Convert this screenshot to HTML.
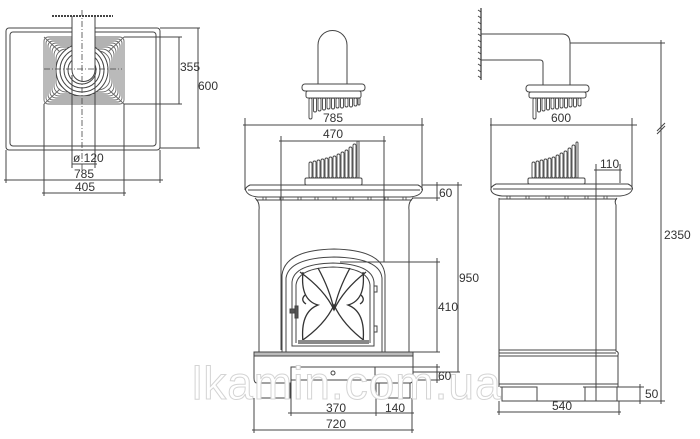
<!DOCTYPE html>
<html><head><meta charset="utf-8"><style>
html,body{margin:0;padding:0;background:#fff;width:700px;height:439px;overflow:hidden}
svg{display:block}
text{font-family:"Liberation Sans Narrow","Liberation Sans",sans-serif;font-size:12px;fill:#333}
</style></head><body>
<svg width="700" height="439" viewBox="0 0 700 439" xmlns="http://www.w3.org/2000/svg">
<g fill="none" stroke="#444" stroke-width="1">
<!-- TOP VIEW -->
<rect x="6" y="28" width="154" height="122" rx="3"/>
<rect x="10" y="32" width="146" height="114" rx="3"/>
<g stroke="#666" stroke-width="0.9">
<rect x="44" y="37" width="80" height="67" rx="4"/>
<rect x="46" y="39" width="76" height="63" rx="4"/>
<rect x="48" y="41" width="72" height="59" rx="5"/>
<rect x="50" y="43" width="68" height="55" rx="6"/>
<rect x="52" y="45" width="64" height="51" rx="7"/>
<rect x="54" y="47" width="60" height="47" rx="8"/>
<rect x="56" y="49" width="56" height="43" rx="10"/>
<rect x="58" y="51" width="52" height="39" rx="12"/>
<path d="M44 37 L60 52 M124 37 L108 52 M44 104 L60 89 M124 104 L108 89"/>
</g>
<circle cx="82" cy="70" r="26" fill="#fff"/>
<circle cx="82" cy="70" r="22"/>
<circle cx="82" cy="70" r="18"/>
<circle cx="82" cy="70" r="14"/>
<rect x="72" y="16" width="23" height="56" fill="#fff" stroke="none"/>
<path d="M72 16 V70 A11 11 0 0 0 95 70 V16"/>
<path d="M52 16 H113" stroke-width="2" stroke-dasharray="2 1"/>
<path d="M82 10 V170 M44 69 H122" stroke-dasharray="6 2 1 2" stroke-width="0.8"/>
<path d="M124 37 H182 M124 104 H182 M179 37 V104 M160 28 H200 M160 148 H200 M198 28 V148"/>
<path d="M72 75 V168 M95 75 V168 M72 164 H97"/>
<path d="M6 150 V183 M160 150 V183 M4 180 H163 M44 104 V196 M124 104 V196 M42 193 H126"/>

<!-- FRONT VIEW -->
<path d="M318 84 V45 A14.5 14.5 0 0 1 347 45 V84"/>
<rect x="302" y="84" width="63" height="7" rx="3"/>
<rect x="306" y="91" width="55" height="7" rx="2"/>
<g stroke-width="0.9">
<rect x="309" y="98" width="3" height="21" rx="1.5"/><rect x="313.5" y="98" width="3" height="14" rx="1.5"/><rect x="318" y="98" width="3" height="13" rx="1.5"/><rect x="322.5" y="98" width="3" height="12" rx="1.5"/><rect x="327" y="98" width="3" height="11" rx="1.5"/><rect x="331.5" y="98" width="3" height="11" rx="1.5"/><rect x="336" y="98" width="3" height="10" rx="1.5"/><rect x="340.5" y="98" width="3" height="10" rx="1.5"/><rect x="345" y="98" width="3" height="9" rx="1.5"/><rect x="349.5" y="98" width="3" height="9" rx="1.5"/><rect x="354" y="98" width="3" height="8" rx="1.5"/><rect x="358" y="98" width="2" height="7" rx="1"/>
<rect x="309" y="162" width="3" height="16" rx="1.5"/><rect x="313" y="161" width="3" height="17" rx="1.5"/><rect x="317" y="160" width="3" height="18" rx="1.5"/><rect x="321" y="159" width="3" height="19" rx="1.5"/><rect x="325" y="158" width="3" height="20" rx="1.5"/><rect x="329" y="157" width="3" height="21" rx="1.5"/><rect x="333" y="156" width="3" height="22" rx="1.5"/><rect x="337" y="154" width="3" height="24" rx="1.5"/><rect x="341" y="152" width="3" height="26" rx="1.5"/><rect x="345" y="150" width="3" height="28" rx="1.5"/><rect x="349" y="147" width="3" height="31" rx="1.5"/><rect x="353" y="144" width="3" height="34" rx="1.5"/><rect x="357" y="141" width="2" height="37" rx="1"/>
</g>
<rect x="305" y="178" width="57" height="7" rx="1.5"/>
<path d="M250 185 H418 Q424 188 422 191 Q420 196 410 197 H258 Q248 196 246 191 Q244 188 250 185 Z"/>
<path d="M248 190 H420"/>
<g stroke-width="0.8"><rect x="263" y="197" width="3" height="3"/><rect x="280" y="197" width="3" height="3"/><rect x="298" y="197" width="3" height="3"/><rect x="315" y="197" width="3" height="3"/><rect x="333" y="197" width="3" height="3"/><rect x="350" y="197" width="3" height="3"/><rect x="368" y="197" width="3" height="3"/><rect x="385" y="197" width="3" height="3"/><rect x="403" y="197" width="3" height="3"/></g>
<path d="M255 198 Q260 202 259 210 V352 M413 198 Q408 202 409 210 V352"/>
<path d="M256 200 H412"/>
<!-- door -->
<path d="M282 352 V275 Q285 250 334 249 Q383 250 385 275 V352"/>
<path d="M286 352 V278 Q289 258 334 257 Q380 258 382 278 V352"/>
<path d="M292 346 V282 Q294 264 333 263 Q372 264 374 282 V346 Z"/>
<path d="M296 343 V285 Q298 268 333 267 Q368 268 370 285 V343"/>
<rect x="374" y="286" width="3" height="6"/><rect x="374" y="326" width="3" height="6"/>
<g stroke="#333" stroke-width="1.3">
<path d="M300 272 Q325 290 334 310 Q343 290 366 272"/>
<path d="M300 342 Q325 325 334 305 Q343 325 366 342"/>
<path d="M303 272 Q300 300 318 305 Q300 312 303 342"/>
<path d="M363 272 Q366 300 348 305 Q366 312 363 342"/>
<path d="M318 268 Q330 290 334 310 M350 268 Q338 290 334 310"/>
<path d="M305 295 Q300 300 306 304 M361 295 Q366 300 360 304"/>
</g>
<rect x="298" y="340" width="71" height="4" fill="#888" stroke="none"/>
<rect x="290" y="309" width="8" height="4" fill="#555"/><rect x="295" y="306" width="3" height="12" fill="#555"/>
<!-- base -->
<rect x="254" y="352" width="159" height="4" fill="#bbb"/>
<path d="M254 356 V378 Q254 383 257 383 H291 V367 H375 V383 H410 Q413 383 413 378 V356"/>
<path d="M291 380 H375 M375 367 V383"/>
<circle cx="333" cy="373" r="2"/>
<path d="M257 383 V398 H290 V383 M379 383 V398 H410 V383"/>
<!-- front dims -->
<path d="M243 125 H424 M245 118 V190 M422 118 V190"/>
<path d="M279 141 H386 M281 136 V350 M384 136 V262"/>
<path d="M422 185 H462 M412 198 H440 M437 182 V201 M458 182 V372"/>
<path d="M340 262 H440 M437 258 V352 M386 352 H440"/>
<path d="M375 367 H440 M413 380 H440 M437 364 V383 M413 372 H460"/>
<path d="M291 383 V416 M376 383 V416 M412 398 V433 M288 413 H414"/>
<path d="M254 398 V433 M252 430 H414"/>

<!-- SIDE VIEW -->
<path d="M481 8 V80" stroke-width="1.3"/>
<path d="M478 10 L481 12 M478 16 L481 18 M478 22 L481 24 M478 28 L481 30 M478 34 L481 36 M478 40 L481 42 M478 46 L481 48 M478 52 L481 54 M478 58 L481 60 M478 64 L481 66 M478 70 L481 72 M478 76 L481 78" stroke-width="1"/>
<path d="M481 34 H562 Q570 34 570 43 V85 M481 60 H540 Q543 60 543 63 V85"/>
<rect x="526" y="85" width="63" height="7" rx="3"/>
<rect x="529" y="92" width="57" height="6" rx="2"/>
<g stroke-width="0.9">
<rect x="533" y="98" width="3" height="21" rx="1.5"/><rect x="537.5" y="98" width="3" height="14" rx="1.5"/><rect x="542" y="98" width="3" height="13" rx="1.5"/><rect x="546.5" y="98" width="3" height="12" rx="1.5"/><rect x="551" y="98" width="3" height="11" rx="1.5"/><rect x="555.5" y="98" width="3" height="11" rx="1.5"/><rect x="560" y="98" width="3" height="10" rx="1.5"/><rect x="564.5" y="98" width="3" height="10" rx="1.5"/><rect x="569" y="98" width="3" height="9" rx="1.5"/><rect x="573.5" y="98" width="3" height="9" rx="1.5"/><rect x="578" y="98" width="3" height="8" rx="1.5"/>
<rect x="532" y="162" width="3" height="16" rx="1.5"/><rect x="536" y="161" width="3" height="17" rx="1.5"/><rect x="540" y="160" width="3" height="18" rx="1.5"/><rect x="544" y="159" width="3" height="19" rx="1.5"/><rect x="548" y="158" width="3" height="20" rx="1.5"/><rect x="552" y="157" width="3" height="21" rx="1.5"/><rect x="556" y="155" width="3" height="23" rx="1.5"/><rect x="560" y="153" width="3" height="25" rx="1.5"/><rect x="564" y="151" width="3" height="27" rx="1.5"/><rect x="568" y="148" width="3" height="30" rx="1.5"/><rect x="572" y="145" width="3" height="33" rx="1.5"/><rect x="576" y="142" width="2" height="36" rx="1"/>
</g>
<rect x="528" y="178" width="57" height="6" rx="1.5"/>
<path d="M496 184 H628 Q634 187 632 190 Q630 195 620 196 H502 Q492 195 491 190 Q490 187 496 184 Z"/>
<path d="M493 189 H631"/>
<g stroke-width="0.8"><rect x="507" y="196" width="3" height="3"/><rect x="526" y="196" width="3" height="3"/><rect x="546" y="196" width="3" height="3"/><rect x="565" y="196" width="3" height="3"/><rect x="585" y="196" width="3" height="3"/><rect x="604" y="196" width="3" height="3"/></g>
<path d="M499 198 V387 M617 198 Q614 201 616 205 V351 Q619 352 618 355 V387 M499 199 H617"/>
<path d="M499 350 H616 M499 353 H616 M499 356 H618"/>
<path d="M499 384 H618 M500 387 H537 V401 H502 V387 M583 387 H617 V401 H585 V387"/>
<!-- side dims -->
<path d="M490 125 H637 M491 118 V190 M632 118 V190"/>
<path d="M596 164 V401 M620 164 V183 M594 170 H622"/>
<path d="M617 387 H644 M537 401 H665 M640 384 V404"/>
<path d="M570 43 H665 M661 40 V404 M657 134 L665 126 M657 131 L665 123"/>
<path d="M499 401 V415 M619 401 V415 M497 412 H621"/>
</g>
<!-- watermark -->
<text x="192" y="399" style="font-family:'Liberation Sans',sans-serif;font-size:46px;fill:#fff;stroke:#d4d4d4;stroke-width:1;letter-spacing:1px">lkamin.com.ua</text>
<!-- labels -->
<text x="180" y="71">355</text>
<text x="198" y="90">600</text>
<text x="73" y="162">ø 120</text>
<text x="74" y="178">785</text>
<text x="75" y="191">405</text>
<text x="323" y="122">785</text>
<text x="323" y="138">470</text>
<text x="439" y="197">60</text>
<text x="459" y="282">950</text>
<text x="438" y="311">410</text>
<text x="438" y="380">60</text>
<text x="326" y="412">370</text>
<text x="385" y="412">140</text>
<text x="326" y="428">720</text>
<text x="551" y="122">600</text>
<text x="600" y="168">110</text>
<text x="664" y="239">2350</text>
<text x="645" y="398">50</text>
<text x="552" y="410">540</text>
</svg>
</body></html>
